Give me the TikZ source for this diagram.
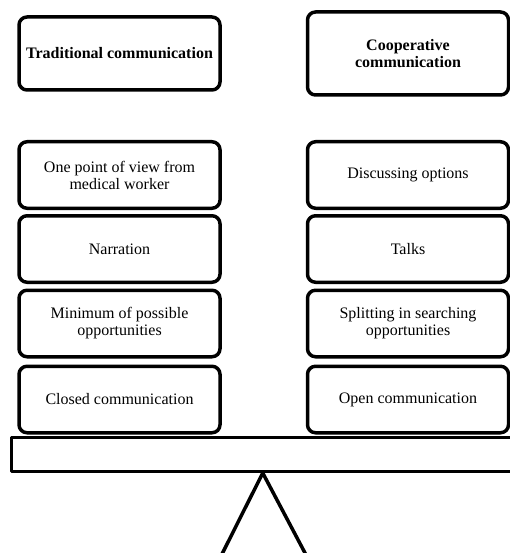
\documentclass[tikz,border=0pt]{standalone}
\usepackage{fontspec}
\setmainfont{Liberation Serif}
\usetikzlibrary{positioning}

\begin{document}
\begin{tikzpicture}[x=1pt,y=-1pt,line join=round]
    \tikzstyle{box}=[rectangle,rounded corners=8pt,draw=black,line width=3.5pt,fill=white,minimum width=201pt,minimum height=66.5pt,inner sep=2pt,align=center,font=\fontsize{16}{17}\selectfont]
    \tikzstyle{head}=[box,font=\fontsize{16}{17}\selectfont\bfseries]
    \tikzstyle{beam}=[rectangle,draw=black,line width=3pt,fill=white,minimum width=502pt,minimum height=34pt,inner sep=0pt]
    \useasboundingbox (0,0) rectangle (510,553);

    \node[head,minimum height=73pt] (H-trad) at (119.5,53.5) {Traditional communication};
    \node[head,minimum height=83pt] (H-coop) at (408,53.5) {Cooperative\\communication};

    % the two stacks of weights
    \foreach \num/\y/\txt in {1/175/{One point of view from\\medical worker}, 2/249/Narration,
                              3/323.5/{Minimum of possible\\opportunities}, 4/399.5/Closed communication}
        \node[box] (L-\num) at (119.5,\y) {\txt};

    \foreach \num/\y/\txt in {1/175/Discussing options, 2/249/Talks,
                              3/323.5/{Splitting in searching\\opportunities}, 4/399.5/Open communication}
        \node[box] (R-\num) at (408,\y) {\txt};

    % scale beam and stand
    \node[beam] (beam) at (262.75,454.5) {};
    \coordinate (base-l) at (214,570);
    \coordinate (base-r) at (314,570);
    \draw[line width=3.5pt] (base-l) -- (beam.south) -- (base-r);
\end{tikzpicture}
\end{document}
